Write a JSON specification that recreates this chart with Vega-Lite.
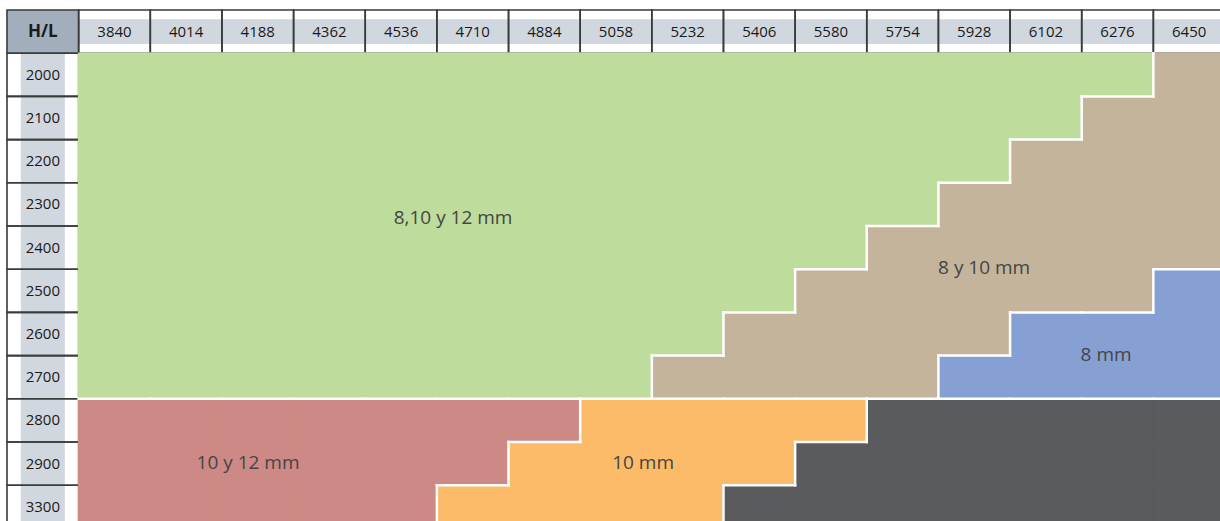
{
  "$schema": "https://vega.github.io/schema/vega-lite/v6.json",
  "width": 1213,
  "height": 511,
  "autosize": "none",
  "padding": {"left": 7, "top": 10, "right": 0, "bottom": 0},
  "background": "white",
  "config": {"view": {"stroke": null}, "font": "Open Sans"},
  "datasets": {
    "cells": [
      {"L":"3840","H":"2000","g":"8,10 y 12 mm"},{"L":"4014","H":"2000","g":"8,10 y 12 mm"},{"L":"4188","H":"2000","g":"8,10 y 12 mm"},{"L":"4362","H":"2000","g":"8,10 y 12 mm"},{"L":"4536","H":"2000","g":"8,10 y 12 mm"},{"L":"4710","H":"2000","g":"8,10 y 12 mm"},{"L":"4884","H":"2000","g":"8,10 y 12 mm"},{"L":"5058","H":"2000","g":"8,10 y 12 mm"},{"L":"5232","H":"2000","g":"8,10 y 12 mm"},{"L":"5406","H":"2000","g":"8,10 y 12 mm"},{"L":"5580","H":"2000","g":"8,10 y 12 mm"},{"L":"5754","H":"2000","g":"8,10 y 12 mm"},{"L":"5928","H":"2000","g":"8,10 y 12 mm"},{"L":"6102","H":"2000","g":"8,10 y 12 mm"},{"L":"6276","H":"2000","g":"8,10 y 12 mm"},{"L":"6450","H":"2000","g":"8 y 10 mm"},
      {"L":"3840","H":"2100","g":"8,10 y 12 mm"},{"L":"4014","H":"2100","g":"8,10 y 12 mm"},{"L":"4188","H":"2100","g":"8,10 y 12 mm"},{"L":"4362","H":"2100","g":"8,10 y 12 mm"},{"L":"4536","H":"2100","g":"8,10 y 12 mm"},{"L":"4710","H":"2100","g":"8,10 y 12 mm"},{"L":"4884","H":"2100","g":"8,10 y 12 mm"},{"L":"5058","H":"2100","g":"8,10 y 12 mm"},{"L":"5232","H":"2100","g":"8,10 y 12 mm"},{"L":"5406","H":"2100","g":"8,10 y 12 mm"},{"L":"5580","H":"2100","g":"8,10 y 12 mm"},{"L":"5754","H":"2100","g":"8,10 y 12 mm"},{"L":"5928","H":"2100","g":"8,10 y 12 mm"},{"L":"6102","H":"2100","g":"8,10 y 12 mm"},{"L":"6276","H":"2100","g":"8 y 10 mm"},{"L":"6450","H":"2100","g":"8 y 10 mm"},
      {"L":"3840","H":"2200","g":"8,10 y 12 mm"},{"L":"4014","H":"2200","g":"8,10 y 12 mm"},{"L":"4188","H":"2200","g":"8,10 y 12 mm"},{"L":"4362","H":"2200","g":"8,10 y 12 mm"},{"L":"4536","H":"2200","g":"8,10 y 12 mm"},{"L":"4710","H":"2200","g":"8,10 y 12 mm"},{"L":"4884","H":"2200","g":"8,10 y 12 mm"},{"L":"5058","H":"2200","g":"8,10 y 12 mm"},{"L":"5232","H":"2200","g":"8,10 y 12 mm"},{"L":"5406","H":"2200","g":"8,10 y 12 mm"},{"L":"5580","H":"2200","g":"8,10 y 12 mm"},{"L":"5754","H":"2200","g":"8,10 y 12 mm"},{"L":"5928","H":"2200","g":"8,10 y 12 mm"},{"L":"6102","H":"2200","g":"8 y 10 mm"},{"L":"6276","H":"2200","g":"8 y 10 mm"},{"L":"6450","H":"2200","g":"8 y 10 mm"},
      {"L":"3840","H":"2300","g":"8,10 y 12 mm"},{"L":"4014","H":"2300","g":"8,10 y 12 mm"},{"L":"4188","H":"2300","g":"8,10 y 12 mm"},{"L":"4362","H":"2300","g":"8,10 y 12 mm"},{"L":"4536","H":"2300","g":"8,10 y 12 mm"},{"L":"4710","H":"2300","g":"8,10 y 12 mm"},{"L":"4884","H":"2300","g":"8,10 y 12 mm"},{"L":"5058","H":"2300","g":"8,10 y 12 mm"},{"L":"5232","H":"2300","g":"8,10 y 12 mm"},{"L":"5406","H":"2300","g":"8,10 y 12 mm"},{"L":"5580","H":"2300","g":"8,10 y 12 mm"},{"L":"5754","H":"2300","g":"8,10 y 12 mm"},{"L":"5928","H":"2300","g":"8 y 10 mm"},{"L":"6102","H":"2300","g":"8 y 10 mm"},{"L":"6276","H":"2300","g":"8 y 10 mm"},{"L":"6450","H":"2300","g":"8 y 10 mm"},
      {"L":"3840","H":"2400","g":"8,10 y 12 mm"},{"L":"4014","H":"2400","g":"8,10 y 12 mm"},{"L":"4188","H":"2400","g":"8,10 y 12 mm"},{"L":"4362","H":"2400","g":"8,10 y 12 mm"},{"L":"4536","H":"2400","g":"8,10 y 12 mm"},{"L":"4710","H":"2400","g":"8,10 y 12 mm"},{"L":"4884","H":"2400","g":"8,10 y 12 mm"},{"L":"5058","H":"2400","g":"8,10 y 12 mm"},{"L":"5232","H":"2400","g":"8,10 y 12 mm"},{"L":"5406","H":"2400","g":"8,10 y 12 mm"},{"L":"5580","H":"2400","g":"8,10 y 12 mm"},{"L":"5754","H":"2400","g":"8 y 10 mm"},{"L":"5928","H":"2400","g":"8 y 10 mm"},{"L":"6102","H":"2400","g":"8 y 10 mm"},{"L":"6276","H":"2400","g":"8 y 10 mm"},{"L":"6450","H":"2400","g":"8 y 10 mm"},
      {"L":"3840","H":"2500","g":"8,10 y 12 mm"},{"L":"4014","H":"2500","g":"8,10 y 12 mm"},{"L":"4188","H":"2500","g":"8,10 y 12 mm"},{"L":"4362","H":"2500","g":"8,10 y 12 mm"},{"L":"4536","H":"2500","g":"8,10 y 12 mm"},{"L":"4710","H":"2500","g":"8,10 y 12 mm"},{"L":"4884","H":"2500","g":"8,10 y 12 mm"},{"L":"5058","H":"2500","g":"8,10 y 12 mm"},{"L":"5232","H":"2500","g":"8,10 y 12 mm"},{"L":"5406","H":"2500","g":"8,10 y 12 mm"},{"L":"5580","H":"2500","g":"8 y 10 mm"},{"L":"5754","H":"2500","g":"8 y 10 mm"},{"L":"5928","H":"2500","g":"8 y 10 mm"},{"L":"6102","H":"2500","g":"8 y 10 mm"},{"L":"6276","H":"2500","g":"8 y 10 mm"},{"L":"6450","H":"2500","g":"8 mm"},
      {"L":"3840","H":"2600","g":"8,10 y 12 mm"},{"L":"4014","H":"2600","g":"8,10 y 12 mm"},{"L":"4188","H":"2600","g":"8,10 y 12 mm"},{"L":"4362","H":"2600","g":"8,10 y 12 mm"},{"L":"4536","H":"2600","g":"8,10 y 12 mm"},{"L":"4710","H":"2600","g":"8,10 y 12 mm"},{"L":"4884","H":"2600","g":"8,10 y 12 mm"},{"L":"5058","H":"2600","g":"8,10 y 12 mm"},{"L":"5232","H":"2600","g":"8,10 y 12 mm"},{"L":"5406","H":"2600","g":"8 y 10 mm"},{"L":"5580","H":"2600","g":"8 y 10 mm"},{"L":"5754","H":"2600","g":"8 y 10 mm"},{"L":"5928","H":"2600","g":"8 y 10 mm"},{"L":"6102","H":"2600","g":"8 mm"},{"L":"6276","H":"2600","g":"8 mm"},{"L":"6450","H":"2600","g":"8 mm"},
      {"L":"3840","H":"2700","g":"8,10 y 12 mm"},{"L":"4014","H":"2700","g":"8,10 y 12 mm"},{"L":"4188","H":"2700","g":"8,10 y 12 mm"},{"L":"4362","H":"2700","g":"8,10 y 12 mm"},{"L":"4536","H":"2700","g":"8,10 y 12 mm"},{"L":"4710","H":"2700","g":"8,10 y 12 mm"},{"L":"4884","H":"2700","g":"8,10 y 12 mm"},{"L":"5058","H":"2700","g":"8,10 y 12 mm"},{"L":"5232","H":"2700","g":"8 y 10 mm"},{"L":"5406","H":"2700","g":"8 y 10 mm"},{"L":"5580","H":"2700","g":"8 y 10 mm"},{"L":"5754","H":"2700","g":"8 y 10 mm"},{"L":"5928","H":"2700","g":"8 mm"},{"L":"6102","H":"2700","g":"8 mm"},{"L":"6276","H":"2700","g":"8 mm"},{"L":"6450","H":"2700","g":"8 mm"},
      {"L":"3840","H":"2800","g":"10 y 12 mm"},{"L":"4014","H":"2800","g":"10 y 12 mm"},{"L":"4188","H":"2800","g":"10 y 12 mm"},{"L":"4362","H":"2800","g":"10 y 12 mm"},{"L":"4536","H":"2800","g":"10 y 12 mm"},{"L":"4710","H":"2800","g":"10 y 12 mm"},{"L":"4884","H":"2800","g":"10 y 12 mm"},{"L":"5058","H":"2800","g":"10 mm"},{"L":"5232","H":"2800","g":"10 mm"},{"L":"5406","H":"2800","g":"10 mm"},{"L":"5580","H":"2800","g":"10 mm"},{"L":"5754","H":"2800","g":"sin dato"},{"L":"5928","H":"2800","g":"sin dato"},{"L":"6102","H":"2800","g":"sin dato"},{"L":"6276","H":"2800","g":"sin dato"},{"L":"6450","H":"2800","g":"sin dato"},
      {"L":"3840","H":"2900","g":"10 y 12 mm"},{"L":"4014","H":"2900","g":"10 y 12 mm"},{"L":"4188","H":"2900","g":"10 y 12 mm"},{"L":"4362","H":"2900","g":"10 y 12 mm"},{"L":"4536","H":"2900","g":"10 y 12 mm"},{"L":"4710","H":"2900","g":"10 y 12 mm"},{"L":"4884","H":"2900","g":"10 mm"},{"L":"5058","H":"2900","g":"10 mm"},{"L":"5232","H":"2900","g":"10 mm"},{"L":"5406","H":"2900","g":"10 mm"},{"L":"5580","H":"2900","g":"sin dato"},{"L":"5754","H":"2900","g":"sin dato"},{"L":"5928","H":"2900","g":"sin dato"},{"L":"6102","H":"2900","g":"sin dato"},{"L":"6276","H":"2900","g":"sin dato"},{"L":"6450","H":"2900","g":"sin dato"},
      {"L":"3840","H":"3300","g":"10 y 12 mm"},{"L":"4014","H":"3300","g":"10 y 12 mm"},{"L":"4188","H":"3300","g":"10 y 12 mm"},{"L":"4362","H":"3300","g":"10 y 12 mm"},{"L":"4536","H":"3300","g":"10 y 12 mm"},{"L":"4710","H":"3300","g":"10 mm"},{"L":"4884","H":"3300","g":"10 mm"},{"L":"5058","H":"3300","g":"10 mm"},{"L":"5232","H":"3300","g":"10 mm"},{"L":"5406","H":"3300","g":"sin dato"},{"L":"5580","H":"3300","g":"sin dato"},{"L":"5754","H":"3300","g":"sin dato"},{"L":"5928","H":"3300","g":"sin dato"},{"L":"6102","H":"3300","g":"sin dato"},{"L":"6276","H":"3300","g":"sin dato"},{"L":"6450","H":"3300","g":"sin dato"}
    ],
    "colhdr": [
      {"L":"3840","H":"H/L"},{"L":"4014","H":"H/L"},{"L":"4188","H":"H/L"},{"L":"4362","H":"H/L"},{"L":"4536","H":"H/L"},{"L":"4710","H":"H/L"},{"L":"4884","H":"H/L"},{"L":"5058","H":"H/L"},{"L":"5232","H":"H/L"},{"L":"5406","H":"H/L"},{"L":"5580","H":"H/L"},{"L":"5754","H":"H/L"},{"L":"5928","H":"H/L"},{"L":"6102","H":"H/L"},{"L":"6276","H":"H/L"},{"L":"6450","H":"H/L"}
    ],
    "rowhdr": [
      {"L":"H/L","H":"2000"},{"L":"H/L","H":"2100"},{"L":"H/L","H":"2200"},{"L":"H/L","H":"2300"},{"L":"H/L","H":"2400"},{"L":"H/L","H":"2500"},{"L":"H/L","H":"2600"},{"L":"H/L","H":"2700"},{"L":"H/L","H":"2800"},{"L":"H/L","H":"2900"},{"L":"H/L","H":"3300"}
    ],
    "corner": [{"L":"H/L","H":"H/L"}],
    "vsegs": [
      {"L":"6450","H":"2000"},{"L":"6276","H":"2100"},{"L":"6102","H":"2200"},{"L":"5928","H":"2300"},{"L":"5754","H":"2400"},{"L":"5580","H":"2500"},{"L":"5406","H":"2600"},{"L":"5232","H":"2700"},
      {"L":"6450","H":"2500"},{"L":"6102","H":"2600"},{"L":"5928","H":"2700"},
      {"L":"5058","H":"2800"},{"L":"4884","H":"2900"},{"L":"4710","H":"3300"},
      {"L":"5754","H":"2800"},{"L":"5580","H":"2900"},{"L":"5406","H":"3300"}
    ],
    "hsegs": [
      {"L":"6276","H":"2100"},{"L":"6102","H":"2200"},{"L":"5928","H":"2300"},{"L":"5754","H":"2400"},{"L":"5580","H":"2500"},{"L":"5406","H":"2600"},{"L":"5232","H":"2700"},
      {"L":"6450","H":"2500"},{"L":"6102","H":"2600"},{"L":"6276","H":"2600"},{"L":"5928","H":"2700"},
      {"L":"3840","H":"2800"},{"L":"4014","H":"2800"},{"L":"4188","H":"2800"},{"L":"4362","H":"2800"},{"L":"4536","H":"2800"},{"L":"4710","H":"2800"},{"L":"4884","H":"2800"},{"L":"5058","H":"2800"},{"L":"5232","H":"2800"},{"L":"5406","H":"2800"},{"L":"5580","H":"2800"},{"L":"5754","H":"2800"},{"L":"5928","H":"2800"},{"L":"6102","H":"2800"},{"L":"6276","H":"2800"},{"L":"6450","H":"2800"},
      {"L":"4884","H":"2900"},{"L":"4710","H":"3300"},
      {"L":"5580","H":"2900"},{"L":"5406","H":"3300"}
    ]
  },
  "layer": [
    {
      "data": {"name": "colhdr"},
      "mark": {"type": "rect", "fill": "white"},
      "encoding": {
        "x": {"field": "L", "type": "ordinal", "axis": null,
          "scale": {"type": "band", "domain": ["H/L","3840","4014","4188","4362","4536","4710","4884","5058","5232","5406","5580","5754","5928","6102","6276","6450"], "range": [0, 1218], "paddingInner": 0, "paddingOuter": 0}},
        "y": {"field": "H", "type": "ordinal", "axis": null,
          "scale": {"type": "band", "domain": ["H/L","2000","2100","2200","2300","2400","2500","2600","2700","2800","2900","3300"], "range": [0, 518.4], "paddingInner": 0, "paddingOuter": 0}}
      }
    },
    {
      "data": {"name": "rowhdr"},
      "mark": {"type": "rect", "fill": "white"},
      "encoding": {"x": {"field": "L", "type": "ordinal"}, "y": {"field": "H", "type": "ordinal"}}
    },
    {
      "data": {"name": "colhdr"},
      "mark": {"type": "rect", "fill": "#d0d7df", "height": {"band": 0.57}},
      "encoding": {"x": {"field": "L", "type": "ordinal"}, "y": {"field": "H", "type": "ordinal"}}
    },
    {
      "data": {"name": "rowhdr"},
      "mark": {"type": "rect", "fill": "#d0d7df", "width": {"band": 0.614}},
      "encoding": {"x": {"field": "L", "type": "ordinal"}, "y": {"field": "H", "type": "ordinal"}}
    },
    {
      "data": {"name": "corner"},
      "mark": {"type": "rect", "fill": "#a3aebd"},
      "encoding": {"x": {"field": "L", "type": "ordinal"}, "y": {"field": "H", "type": "ordinal"}}
    },
    {
      "data": {"name": "colhdr"},
      "mark": {"type": "rect", "fill": null, "stroke": "#3a3a3a", "strokeWidth": 1.6},
      "encoding": {"x": {"field": "L", "type": "ordinal"}, "y": {"field": "H", "type": "ordinal"}}
    },
    {
      "data": {"name": "rowhdr"},
      "mark": {"type": "rect", "fill": null, "stroke": "#3a3a3a", "strokeWidth": 1.6},
      "encoding": {"x": {"field": "L", "type": "ordinal"}, "y": {"field": "H", "type": "ordinal"}}
    },
    {
      "data": {"name": "corner"},
      "mark": {"type": "rect", "fill": null, "stroke": "#3a3a3a", "strokeWidth": 1.6},
      "encoding": {"x": {"field": "L", "type": "ordinal"}, "y": {"field": "H", "type": "ordinal"}}
    },
    {
      "data": {"name": "cells"},
      "mark": {"type": "rect", "strokeWidth": 1.4, "opacity": 1},
      "encoding": {
        "x": {"field": "L", "type": "ordinal"},
        "y": {"field": "H", "type": "ordinal"},
        "fill": {"field": "g", "type": "nominal", "legend": null,
          "scale": {"domain": ["8,10 y 12 mm","8 y 10 mm","8 mm","10 y 12 mm","10 mm","sin dato"], "range": ["#bedc9b","#c4b49b","#86a0d3","#cd8985","#fbbb69","#5a5b5d"]}},
        "stroke": {"field": "g", "type": "nominal", "legend": null,
          "scale": {"domain": ["8,10 y 12 mm","8 y 10 mm","8 mm","10 y 12 mm","10 mm","sin dato"], "range": ["#bedc9b","#c4b49b","#86a0d3","#cd8985","#fbbb69","#5a5b5d"]}}
      }
    },
    {
      "data": {"name": "vsegs"},
      "mark": {"type": "rule", "color": "white", "strokeWidth": 2.5, "strokeCap": "square"},
      "encoding": {
        "x": {"field": "L", "type": "ordinal", "bandPosition": 0},
        "y": {"field": "H", "type": "ordinal", "bandPosition": 0},
        "y2": {"field": "H", "bandPosition": 1}
      }
    },
    {
      "data": {"name": "hsegs"},
      "mark": {"type": "rule", "color": "white", "strokeWidth": 2.5, "strokeCap": "square"},
      "encoding": {
        "y": {"field": "H", "type": "ordinal", "bandPosition": 0},
        "x": {"field": "L", "type": "ordinal", "bandPosition": 0},
        "x2": {"field": "L", "bandPosition": 1}
      }
    },
    {
      "data": {"name": "colhdr"},
      "mark": {"type": "text", "fontSize": 15, "color": "#1a1a1a", "baseline": "middle", "align": "center"},
      "encoding": {"x": {"field": "L", "type": "ordinal"}, "y": {"field": "H", "type": "ordinal"}, "text": {"field": "L"}}
    },
    {
      "data": {"name": "rowhdr"},
      "mark": {"type": "text", "fontSize": 15, "color": "#1a1a1a", "baseline": "middle", "align": "center"},
      "encoding": {"x": {"field": "L", "type": "ordinal"}, "y": {"field": "H", "type": "ordinal"}, "text": {"field": "H"}}
    },
    {
      "data": {"name": "corner"},
      "mark": {"type": "text", "fontSize": 17, "fontWeight": "bold", "color": "#1a1a1a", "baseline": "middle", "align": "center"},
      "encoding": {"x": {"field": "L", "type": "ordinal"}, "y": {"field": "H", "type": "ordinal"}, "text": {"field": "L"}}
    },
    {
      "data": {"values": [{"label": "8,10 y 12 mm", "L": "4710", "H": "2300"}]},
      "mark": {"type": "text", "fontSize": 19, "color": "#454545", "baseline": "middle", "align": "center"},
      "encoding": {"x": {"field": "L", "type": "ordinal", "bandPosition": 0.226}, "y": {"field": "H", "type": "ordinal", "bandPosition": 0.815}, "text": {"field": "label"}}
    },
    {
      "data": {"values": [{"label": "8 y 10 mm", "L": "5928", "H": "2400"}]},
      "mark": {"type": "text", "fontSize": 19, "color": "#454545", "baseline": "middle", "align": "center"},
      "encoding": {"x": {"field": "L", "type": "ordinal", "bandPosition": 0.638}, "y": {"field": "H", "type": "ordinal", "bandPosition": 0.972}, "text": {"field": "label"}}
    },
    {
      "data": {"values": [{"label": "8 mm", "L": "6276", "H": "2600"}]},
      "mark": {"type": "text", "fontSize": 19, "color": "#454545", "baseline": "middle", "align": "center"},
      "encoding": {"x": {"field": "L", "type": "ordinal", "bandPosition": 0.34}, "y": {"field": "H", "type": "ordinal", "bandPosition": 0.986}, "text": {"field": "label"}}
    },
    {
      "data": {"values": [{"label": "10 y 12 mm", "L": "4188", "H": "2900"}]},
      "mark": {"type": "text", "fontSize": 19, "color": "#454545", "baseline": "middle", "align": "center"},
      "encoding": {"x": {"field": "L", "type": "ordinal", "bandPosition": 0.364}, "y": {"field": "H", "type": "ordinal", "bandPosition": 0.486}, "text": {"field": "label"}}
    },
    {
      "data": {"values": [{"label": "10 mm", "L": "5058", "H": "2900"}]},
      "mark": {"type": "text", "fontSize": 19, "color": "#454545", "baseline": "middle", "align": "center"},
      "encoding": {"x": {"field": "L", "type": "ordinal", "bandPosition": 0.878}, "y": {"field": "H", "type": "ordinal", "bandPosition": 0.486}, "text": {"field": "label"}}
    }
  ]
}
